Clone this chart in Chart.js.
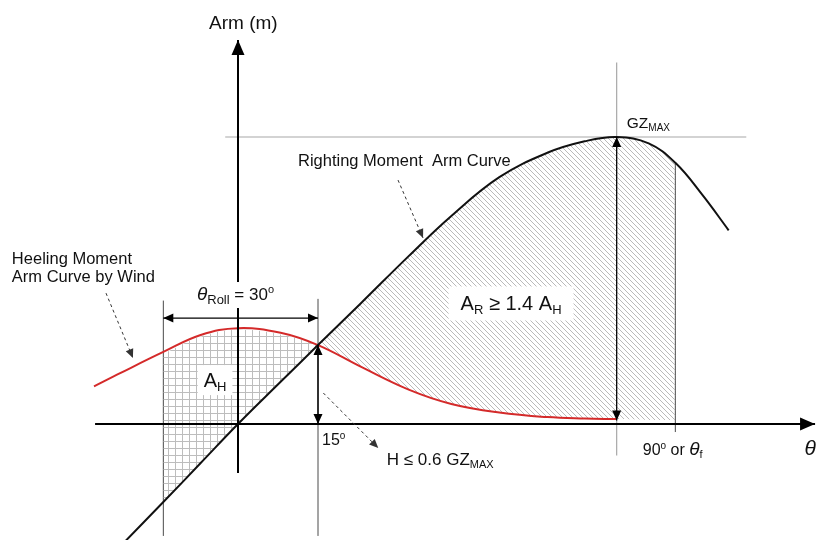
<!DOCTYPE html>
<html lang="en">
<head>
<meta charset="UTF-8" />
<title>Weather criterion</title>
<style>
  body { margin: 0; background: #fff; }
  .wrap { width: 818px; height: 540px; }
</style>
</head>
<body>
<div class="wrap"><canvas id="gz-chart"></canvas></div>
<script src="https://cdn.jsdelivr.net/npm/chart.js@4.4.1/dist/chart.umd.min.js"></script>
<script>
// heel angle (deg) and arms as a fraction of GZmax
var angles = [-27, -22, -14, -7, 0, 8, 15, 23, 32, 40, 49, 58, 65, 71, 77, 82, 87, 92];
var rightingArm = [null, -0.425, -0.272, -0.136, 0, 0.147, 0.275, 0.42, 0.585, 0.725, 0.86, 0.945, 0.985, 1.0, 0.978, 0.91, 0.80, 0.675];
var heelingArm = [0.131, 0.178, 0.251, 0.31, 0.334, 0.318, 0.275, 0.20, 0.12, 0.07, 0.04, 0.024, 0.019, 0.017, null, null, null, null];

// hatched areas A_H and A_R
var areaHAngles = [-14, -7, 0, 8, 15];
var areaHTop = [0.245, 0.304, 0.328, 0.312, 0.275];
var areaHBottom = [-0.272, -0.136, 0, 0.147, 0.275];
var areaRAngles = [15, 23, 32, 40, 49, 58, 65, 71, 77, 82];
var areaRTop = [0.275, 0.42, 0.585, 0.725, 0.86, 0.945, 0.985, 1.0, 0.978, 0.91];
var areaRBottom = [0.275, 0.20, 0.12, 0.07, 0.04, 0.024, 0.019, 0.017, 0.014, 0.014];

// marked angles
var rollStart = -14;
var steadyAngle = 15;
var gzMaxAngle = 71;
var limitAngle = 82;

var FONT = "'Liberation Sans', Arial, sans-serif";

function pts(xs, ys) {
  var out = [];
  for (var i = 0; i < xs.length; i++) {
    if (ys[i] !== null) out.push({ x: xs[i], y: ys[i] });
  }
  return out;
}

var canvas = document.getElementById('gz-chart');
var mainCtx = canvas.getContext('2d');

function diagPattern() {
  var c = document.createElement('canvas');
  c.width = c.height = 5;
  var g = c.getContext('2d');
  g.strokeStyle = '#bababa';
  g.lineWidth = 1;
  g.beginPath();
  g.moveTo(0, 0); g.lineTo(5, 5);
  g.moveTo(-1, 4); g.lineTo(1, 6);
  g.moveTo(4, -1); g.lineTo(6, 1);
  g.stroke();
  return mainCtx.createPattern(c, 'repeat');
}

function gridPattern() {
  var c = document.createElement('canvas');
  c.width = c.height = 7;
  var g = c.getContext('2d');
  g.fillStyle = '#bdbdbd';
  g.fillRect(0, 0, 7, 1);
  g.fillRect(0, 0, 1, 7);
  return mainCtx.createPattern(c, 'repeat');
}

function line(ctx, x1, y1, x2, y2, color, w, dash) {
  ctx.save();
  ctx.strokeStyle = color;
  ctx.lineWidth = w;
  ctx.setLineDash(dash || []);
  ctx.beginPath();
  ctx.moveTo(x1, y1);
  ctx.lineTo(x2, y2);
  ctx.stroke();
  ctx.restore();
}

function head(ctx, x1, y1, x2, y2, len, half, color) {
  // filled triangle with its tip on (x2, y2)
  var a = Math.atan2(y2 - y1, x2 - x1);
  ctx.save();
  ctx.fillStyle = color;
  ctx.beginPath();
  ctx.moveTo(x2, y2);
  ctx.lineTo(x2 - len * Math.cos(a) + half * Math.sin(a), y2 - len * Math.sin(a) - half * Math.cos(a));
  ctx.lineTo(x2 - len * Math.cos(a) - half * Math.sin(a), y2 - len * Math.sin(a) + half * Math.cos(a));
  ctx.closePath();
  ctx.fill();
  ctx.restore();
}

function arrow(ctx, x1, y1, x2, y2, opts) {
  line(ctx, x1, y1, x2, y2, opts.color, opts.w, opts.dash);
  head(ctx, x1, y1, x2, y2, opts.len, opts.half, opts.color);
  if (opts.both) head(ctx, x2, y2, x1, y1, opts.len, opts.half, opts.color);
}

function rich(ctx, parts, x, y) {
  // x = left edge, y = baseline
  var cx = x;
  parts.forEach(function (p) {
    ctx.font = p.f;
    ctx.fillText(p.t, cx, y + (p.dy || 0));
    cx += ctx.measureText(p.t).width;
  });
  return cx - x;
}

function richWidth(ctx, parts) {
  var w = 0;
  parts.forEach(function (p) { ctx.font = p.f; w += ctx.measureText(p.t).width; });
  return w;
}

var notesPlugin = {
  id: 'gzNotes',
  beforeDatasetsDraw: function (chart) {
    var ctx = chart.ctx, sx = chart.scales.x, sy = chart.scales.y;
    var X = function (v) { return sx.getPixelForValue(v); };
    var Y = function (v) { return sy.getPixelForValue(v); };
    // GZmax guide lines
    line(ctx, X(-2.4), Y(1), X(95.3), Y(1), '#a8a8a8', 1.2);
    line(ctx, X(gzMaxAngle), Y(1.26), X(gzMaxAngle), Y(-0.11), '#a8a8a8', 1.2);
    // roll range and limit angle
    line(ctx, X(rollStart), Y(0.43), X(rollStart), Y(-0.39), '#4a4a4a', 1);
    line(ctx, X(steadyAngle), Y(0.436), X(steadyAngle), Y(-0.39), '#4a4a4a', 1);
    line(ctx, X(limitAngle), Y(0.91), X(limitAngle), Y(-0.028), '#4a4a4a', 1);
  },
  afterDatasetsDraw: function (chart) {
    var ctx = chart.ctx, sx = chart.scales.x, sy = chart.scales.y;
    var X = function (v) { return sx.getPixelForValue(v); };
    var Y = function (v) { return sy.getPixelForValue(v); };
    var axisArrow = { color: '#000', w: 2, len: 15, half: 6.5 };
    var dimArrow = { color: '#000', w: 1.4, len: 10, half: 4.5, both: true };
    var noteArrow = { color: '#333', w: 1, len: 9, half: 4, dash: [3, 3] };

    // axes
    arrow(ctx, X(0), Y(-0.171), X(0), Y(1.338), axisArrow);
    arrow(ctx, X(-26.8), Y(0), X(108.2), Y(0), axisArrow);

    // dimension arrows
    arrow(ctx, X(rollStart), Y(0.369), X(steadyAngle), Y(0.369), dimArrow);
    arrow(ctx, X(steadyAngle), Y(0.275), X(steadyAngle), Y(0), dimArrow);
    arrow(ctx, X(gzMaxAngle), Y(1.0), X(gzMaxAngle), Y(0.012),
      { color: '#000', w: 1.2, len: 10, half: 4.5, both: true });

    // pointer arrows
    arrow(ctx, X(30), Y(0.85), X(34.7), Y(0.648), noteArrow);
    arrow(ctx, X(-24.75), Y(0.456), X(-19.7), Y(0.23), noteArrow);
    arrow(ctx, X(16.0), Y(0.108), X(26.3), Y(-0.084), noteArrow);

    ctx.save();
    ctx.fillStyle = '#111';
    ctx.textBaseline = 'alphabetic';
    ctx.textAlign = 'left';

    // axis titles
    ctx.font = '19px ' + FONT;
    ctx.textAlign = 'center';
    ctx.fillText('Arm (m)', X(1.0), Y(1.375));
    ctx.textAlign = 'left';
    ctx.font = 'italic 21px ' + FONT;
    ctx.fillText('\u03b8', X(106.2), Y(-0.108));

    // GZmax
    rich(ctx, [
      { t: 'GZ', f: '15.5px ' + FONT },
      { t: 'MAX', f: '10px ' + FONT, dy: 3 }
    ], X(72.9), Y(1.031));

    ctx.font = '16.5px ' + FONT;
    ctx.fillText('Righting Moment  Arm Curve', X(11.25), Y(0.899));
    ctx.fillText('Heeling Moment', X(-42.4), Y(0.557));
    ctx.fillText('Arm Curve by Wind', X(-42.4), Y(0.495));

    // roll angle label on white
    var rollParts = [
      { t: '\u03b8', f: 'italic 19px ' + FONT },
      { t: 'Roll', f: '13px ' + FONT, dy: 4 },
      { t: ' = 30', f: '17px ' + FONT },
      { t: 'o', f: '11px ' + FONT, dy: -7 }
    ];
    var rx = X(-7.7), ry = Y(0.432);
    ctx.save();
    ctx.fillStyle = '#fff';
    ctx.fillRect(rx - 2, ry - 18, richWidth(ctx, rollParts) + 4, 26);
    ctx.restore();
    rich(ctx, rollParts, rx, ry);

    rich(ctx, [
      { t: '15', f: '16px ' + FONT },
      { t: 'o', f: '10px ' + FONT, dy: -6 }
    ], X(15.75), Y(-0.073));

    rich(ctx, [
      { t: 'H \u2264 0.6 GZ', f: '17px ' + FONT },
      { t: 'MAX', f: '11px ' + FONT, dy: 3 }
    ], X(27.9), Y(-0.143));

    rich(ctx, [
      { t: '90', f: '16px ' + FONT },
      { t: 'o', f: '10px ' + FONT, dy: -6 },
      { t: ' or ', f: '16px ' + FONT },
      { t: '\u03b8', f: 'italic 19px ' + FONT },
      { t: 'f', f: '11px ' + FONT, dy: 3 }
    ], X(75.9), Y(-0.108));

    // area labels on white boxes
    var ahParts = [
      { t: 'A', f: '20px ' + FONT },
      { t: 'H', f: '13px ' + FONT, dy: 4 }
    ];
    var ahW = richWidth(ctx, ahParts);
    var ahx = X(-4.3), ahy = Y(0.153);
    ctx.save();
    ctx.fillStyle = '#fff';
    ctx.fillRect(ahx - ahW / 2 - 6, ahy - 15, ahW + 12, 30);
    ctx.restore();
    rich(ctx, ahParts, ahx - ahW / 2, ahy + 7);

    var arParts = [
      { t: 'A', f: '20px ' + FONT },
      { t: 'R', f: '13px ' + FONT, dy: 4 },
      { t: ' \u2265 1.4 A', f: '20px ' + FONT },
      { t: 'H', f: '13px ' + FONT, dy: 4 }
    ];
    var arW = richWidth(ctx, arParts);
    var arx = X(51.2), ary = Y(0.42);
    ctx.save();
    ctx.fillStyle = '#fff';
    ctx.fillRect(arx - arW / 2 - 12, ary - 17, arW + 24, 34);
    ctx.restore();
    rich(ctx, arParts, arx - arW / 2, ary + 7);

    ctx.restore();
  }
};

function curve(label, data, color, order) {
  return {
    label: label,
    data: data,
    showLine: true,
    borderColor: color,
    borderWidth: 2,
    pointRadius: 0,
    tension: 0.4,
    fill: false,
    order: order
  };
}

function area(label, data, pattern, target) {
  return {
    label: label,
    data: data,
    showLine: true,
    borderWidth: 0,
    borderColor: 'rgba(0,0,0,0)',
    pointRadius: 0,
    tension: 0.4,
    backgroundColor: pattern || 'rgba(0,0,0,0)',
    fill: target === undefined ? false : target,
    order: 2
  };
}

new Chart(canvas, {
  type: 'scatter',
  data: {
    datasets: [
      curve('Righting moment arm', pts(angles, rightingArm), '#111', 0),
      curve('Heeling moment arm', pts(angles, heelingArm), '#d42a2a', 0),
      area('A_H', pts(areaHAngles, areaHTop), gridPattern(), 3),
      area('A_H base', pts(areaHAngles, areaHBottom)),
      area('A_R', pts(areaRAngles, areaRTop), diagPattern(), 5),
      area('A_R base', pts(areaRAngles, areaRBottom))
    ]
  },
  options: {
    responsive: true,
    maintainAspectRatio: false,
    animation: false,
    layout: { padding: 0 },
    plugins: {
      legend: { display: false },
      tooltip: { enabled: false },
      title: { display: false }
    },
    scales: {
      x: { type: 'linear', min: -44.625, max: 108.75, display: false },
      y: { type: 'linear', min: -0.4042, max: 1.4774, display: false }
    }
  },
  plugins: [notesPlugin]
});
</script>
</body>
</html>
